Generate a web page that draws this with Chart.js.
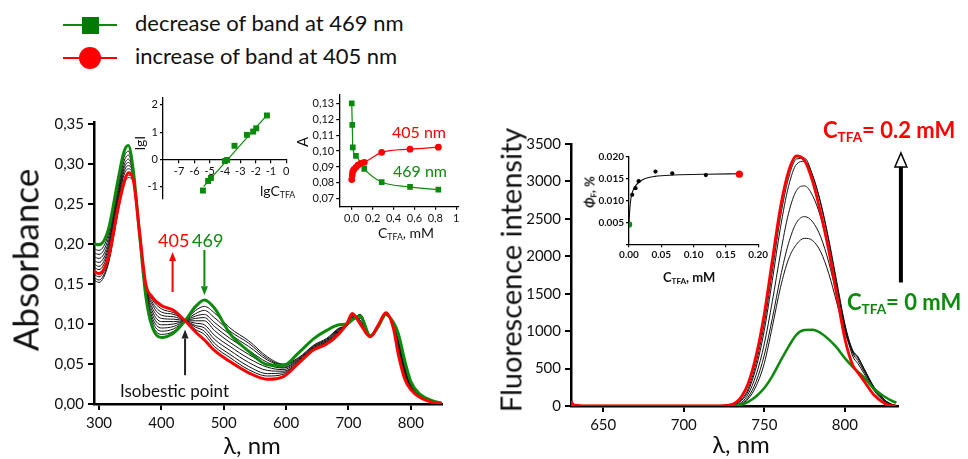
<!DOCTYPE html>
<html>
<head>
<meta charset="utf-8">
<script src="https://cdn.jsdelivr.net/npm/chart.js@4.4.1/dist/chart.umd.min.js"></script>
<style>
	body {margin:0; width:968px; height:459px; position:relative; overflow:hidden; background:#fff; font-family:Lato, 'DejaVu Sans', sans-serif; color:#111;}
	canvas {position:absolute;}
	.t {position:absolute; white-space:nowrap; line-height:1;}
	.rot {transform:translate(-50%,-50%) rotate(-90deg);}
	.cx {transform:translateX(-50%);}
	sub {font-size:0.62em; vertical-align:-0.28em; line-height:0;}
	.green {color:#0b8a0b;}
	.red {color:#ff0000;}
</style>
</head>
<body>

<svg style="position:absolute;left:0;top:0" width="130" height="80">
	<line x1="63" y1="25" x2="117" y2="25" stroke="#0b8a0b" stroke-width="2"/>
	<rect x="82" y="17" width="17" height="17" fill="#007a00"/>
	<line x1="63" y1="58" x2="117" y2="58" stroke="#ff0000" stroke-width="2"/>
	<circle cx="90" cy="58" r="11" fill="#ff0000"/>
</svg>
<div class="t" style="left:135px;top:11.5px;font-size:22px">decrease of band at 469 nm</div>
<div class="t" style="left:135px;top:44.5px;font-size:22px">increase of band at 405 nm</div>

<canvas id="absChart" width="470" height="369" style="left:0;top:90px"></canvas>
<canvas id="flChart" width="488" height="369" style="left:480px;top:90px"></canvas>
<canvas id="lgChart" width="180" height="125" style="left:120px;top:88px"></canvas>
<canvas id="aChart" width="168" height="160" style="left:300px;top:84px"></canvas>
<canvas id="phiChart" width="190" height="140" style="left:580px;top:146px"></canvas>

<div class="t rot" style="left:25px;top:260px;font-size:35px">Absorbance</div>
<div class="t cx" style="left:252px;top:433px;font-size:24px">λ, nm</div>
<div class="t red" style="left:158px;top:231px;font-size:18px">405</div>
<div class="t green" style="left:192px;top:231px;font-size:18px">469</div>
<div class="t" style="left:120px;top:382px;font-size:17px">Isobestic point</div>

<div class="t rot" style="left:510px;top:270px;font-size:29px">Fluorescence intensity</div>
<div class="t cx" style="left:741px;top:432px;font-size:24px">λ, nm</div>
<div class="t red" style="left:823px;top:118.5px;font-size:22px;font-weight:bold">C<sub>TFA</sub>= 0.2 mM</div>
<div class="t green" style="left:847px;top:290.5px;font-size:22px;font-weight:bold">C<sub>TFA</sub>= 0 mM</div>

<div class="t rot" style="left:140px;top:143px;font-size:14px">lgI</div>
<div class="t" style="left:260px;top:183.6px;font-size:14px">lgC<sub>TFA</sub></div>

<div class="t rot" style="left:302px;top:142px;font-size:15px">A</div>
<div class="t" style="left:378px;top:225.6px;font-size:14px">C<sub>TFA</sub>, mM</div>
<div class="t red" style="left:392px;top:123.8px;font-size:16px">405 nm</div>
<div class="t green" style="left:393px;top:162.8px;font-size:16px">469 nm</div>

<div class="t rot" style="left:590px;top:192px;font-size:13px;font-weight:bold"><i>Φ</i><sub>F</sub>, %</div>
<div class="t" style="left:663px;top:270.5px;font-size:13px;font-weight:bold">C<sub>TFA</sub>, mM</div>

<script>
const GREEN = '#0b8a0b';
const RED = '#ff0000';

// absorption spectra (left)
const absWl = [292, 300, 315, 330, 340, 347, 355, 365, 375, 385, 400, 420, 438, 455, 469, 485, 510, 540, 570, 595, 620, 645, 665, 685, 698, 706, 719, 735, 748, 760, 772, 780, 790, 800, 815, 835, 850];
const absGreen = [0.200, 0.199, 0.218, 0.278, 0.315, 0.323, 0.292, 0.212, 0.135, 0.097, 0.083, 0.089, 0.104, 0.122, 0.130, 0.120, 0.088, 0.066, 0.049, 0.048, 0.064, 0.082, 0.092, 0.099, 0.100, 0.105, 0.110, 0.085, 0.097, 0.112, 0.102, 0.088, 0.055, 0.028, 0.012, 0.004, 0.001];
const absRed = [0.166, 0.163, 0.183, 0.243, 0.276, 0.289, 0.280, 0.215, 0.150, 0.134, 0.123, 0.117, 0.104, 0.090, 0.080, 0.067, 0.053, 0.039, 0.031, 0.034, 0.051, 0.068, 0.075, 0.088, 0.101, 0.113, 0.100, 0.084, 0.099, 0.114, 0.095, 0.062, 0.032, 0.018, 0.008, 0.002, 0.000];
const absB1 = [.194,.192,.212,.272,.308,.316,.290,.213,.137,.101,.087,.091,.104,.117,.122,.114,.095,.079,.059,.050,.058,.074,.082,.095,.098,.104,.112,.086,.098,.112,.100,.080,.048,.025,.011,.004,.001];
const absB2 = [.189,.187,.207,.267,.303,.311,.289,.214,.139,.105,.091,.094,.104,.113,.117,.108,.091,.076,.057,.049,.057,.073,.081,.094,.098,.104,.112,.086,.098,.112,.099,.078,.046,.024,.010,.003,.001];
const absB3 = [.184,.182,.202,.262,.298,.306,.288,.214,.141,.109,.095,.097,.104,.110,.112,.102,.087,.072,.055,.048,.056,.072,.080,.093,.098,.105,.111,.085,.098,.113,.099,.076,.044,.023,.010,.003,.000];
const absB4 = [.179,.177,.198,.258,.294,.302,.287,.215,.143,.113,.099,.100,.104,.107,.108,.097,.082,.067,.052,.046,.055,.071,.079,.092,.099,.106,.110,.085,.098,.113,.098,.074,.042,.022,.009,.003,.000];
const absB5 = [.175,.172,.194,.254,.290,.298,.286,.215,.145,.117,.103,.103,.104,.104,.104,.092,.077,.062,.049,.045,.054,.070,.078,.091,.099,.107,.109,.085,.099,.113,.097,.072,.040,.021,.009,.003,.000];
const absB6 = [.171,.168,.190,.250,.286,.294,.284,.215,.146,.121,.107,.106,.104,.101,.099,.086,.072,.057,.046,.043,.053,.069,.077,.090,.099,.108,.107,.084,.099,.113,.097,.070,.038,.020,.009,.002,.000];
const absB7 = [.162,.159,.182,.244,.280,.289,.282,.214,.147,.125,.111,.109,.104,.098,.095,.081,.067,.052,.042,.041,.052,.069,.077,.089,.100,.109,.105,.084,.099,.114,.096,.068,.036,.020,.008,.002,.000];
const absB8 = [.158,.155,.178,.240,.277,.286,.280,.214,.148,.128,.115,.112,.104,.096,.091,.076,.062,.047,.038,.039,.052,.068,.076,.089,.100,.110,.103,.084,.099,.114,.096,.066,.035,.019,.008,.002,.000];
const absB9 = [.155,.152,.175,.237,.274,.283,.278,.213,.149,.131,.119,.114,.104,.093,.087,.072,.058,.043,.035,.037,.051,.068,.076,.088,.100,.111,.101,.084,.099,.114,.095,.064,.033,.019,.008,.002,.000];

// fluorescence spectra (right)
const flWl = [630, 632, 640, 660, 680, 700, 720, 728, 732, 736, 740, 745, 750, 755, 760, 765, 770, 775, 780, 785, 790, 795, 800, 805, 808, 812, 818, 825, 830, 832];
const flGreen = [0, 0, 0, 0, 0, 0, 0, 0, 5, 20, 55, 130, 240, 400, 600, 790, 955, 1015, 1020, 975, 890, 780, 640, 520, 460, 380, 230, 120, 60, 45];
const flRed = [60, 10, 0, 0, 0, 0, 0, 10, 40, 130, 300, 680, 1230, 1950, 2650, 3130, 3340, 3280, 3000, 2580, 2080, 1480, 900, 540, 450, 330, 150, 30, 0, 0];
const flB1 = [0, 0, 0, 0, 0, 0, 0, 5, 25, 90, 230, 580, 1100, 1800, 2520, 3040, 3300, 3310, 3080, 2700, 2200, 1620, 1050, 660, 570, 430, 210, 55, 10, 5];
const flB2 = [0, 0, 0, 0, 0, 0, 0, 3, 20, 75, 200, 520, 1010, 1680, 2380, 2930, 3230, 3270, 3080, 2720, 2230, 1660, 1100, 700, 610, 460, 230, 60, 12, 5];
const flB3 = [0, 0, 0, 0, 0, 0, 0, 0, 12, 50, 160, 420, 830, 1400, 2030, 2570, 2880, 2940, 2810, 2520, 2080, 1580, 1080, 740, 660, 490, 250, 70, 15, 5];
const flB4 = [0, 0, 0, 0, 0, 0, 0, 0, 8, 35, 120, 330, 680, 1170, 1720, 2170, 2450, 2530, 2460, 2260, 1920, 1480, 1040, 730, 660, 500, 260, 75, 15, 5];
const flB5 = [0, 0, 0, 0, 0, 0, 0, 0, 5, 25, 95, 270, 570, 1060, 1580, 1960, 2160, 2240, 2210, 2060, 1770, 1380, 990, 710, 640, 480, 250, 75, 15, 5];

// inset: lgI vs lgC
const lgC = [-5.44, -5.10, -4.92, -4.01, -3.86, -3.38, -2.57, -2.16, -1.96, -1.26];
const lgI = [-1.14, -0.79, -0.68, -0.06, -0.02, 0.50, 0.90, 1.02, 1.14, 1.61];
const lgCFit = [-5.40, -1.26];
const lgIFit = [-1.00, 1.62];
const lgTicksX = [-7, -6, -5, -4, -3, -2, -1, 0];

// inset: A vs C(TFA)
const cGreen = [0, 0.005, 0.01, 0.04, 0.12, 0.287, 0.558, 0.829];
const aGreen = [0.130, 0.1165, 0.1023, 0.0970, 0.0888, 0.0805, 0.0775, 0.0757];
const cRed = [0, 0.005, 0.01, 0.02, 0.04, 0.06, 0.085, 0.12, 0.287, 0.558, 0.829];
const aRed = [0.0821, 0.0850, 0.0871, 0.0884, 0.0898, 0.0912, 0.0923, 0.0929, 0.0992, 0.1012, 0.1025];

// inset: quantum yield vs C(TFA)
const cPhi = [0.005, 0.010, 0.015, 0.041, 0.067, 0.119];
const phi = [0.0113, 0.0128, 0.0144, 0.0166, 0.0162, 0.0158];
const cPhiStart = [0], phiStart = [0.0045];
const cPhiEnd = [0.171], phiEnd = [0.0160];
const cPhiFit = [0, 0.001, 0.003, 0.006, 0.010, 0.015, 0.025, 0.040, 0.070, 0.120, 0.172];
const phiFit = [0.0045, 0.0075, 0.0105, 0.0122, 0.0133, 0.0141, 0.0150, 0.0155, 0.0158, 0.0160, 0.0161];

// arrows (data units)
const absArrows = [
	{x: 418, from: 0.140, to: 0.190, color: RED},
	{x: 469, from: 0.1925, to: 0.136, color: GREEN},
	{x: 438, from: 0.036, to: 0.093, color: '#222'}
];
const flArrow = {x: 834.8, from: 1650, to: 3380};


function pts(xs, ys){
	return xs.map((x, i) => ({x: x, y: ys[i]}));
}

function drawArrow(ctx, x, y0, y1, color, lw, hl, hw, open){
	const dir = y1 < y0 ? -1 : 1;
	const base = y1 - dir * hl;
	ctx.save();
	ctx.strokeStyle = color;
	ctx.fillStyle = color;
	ctx.lineWidth = lw;
	ctx.beginPath();
	ctx.moveTo(x, y0);
	ctx.lineTo(x, base);
	ctx.stroke();
	ctx.beginPath();
	ctx.moveTo(x, y1);
	ctx.lineTo(x - hw, base);
	ctx.lineTo(x + hw, base);
	ctx.closePath();
	if (open) {
		ctx.fillStyle = '#fff';
		ctx.fill();
		ctx.lineWidth = 1.5;
		ctx.stroke();
	} else ctx.fill();
	ctx.restore();
}

function axis(o){
	const a = {
		type: 'linear',
		min: o.min,
		max: o.max,
		position: o.position,
		afterFit: (s) => { if (o.size) { if (s.isHorizontal()) s.height = o.size; else s.width = o.size; } },
		ticks: {
			stepSize: o.step,
			includeBounds: false,
			maxRotation: 0,
			autoSkip: false,
			color: '#111',
			padding: o.pad || 3,
			font: {family: "Lato, 'DejaVu Sans', sans-serif", size: o.font, weight: o.bold ? 'bold' : 'normal'},
			callback: o.fmt
		},
		grid: {drawOnChartArea: false, drawTicks: true, tickLength: o.tick || 4, color: '#000', lineWidth: o.tickW || 1.5},
		border: {display: true, color: '#000', width: o.line || 1.5}
	};
	if (o.list) a.afterBuildTicks = (s) => { s.ticks = o.list.map(v => ({value: v})); };
	return a;
}

const base = {
	responsive: false,
	animation: false,
	events: [],
	plugins: {legend: {display: false}, tooltip: {enabled: false}},
	elements: {point: {radius: 0}, line: {cubicInterpolationMode: 'monotone'}}
};

function lineSet(xs, ys, color, w){
	return {data: pts(xs, ys), borderColor: color, borderWidth: w, pointRadius: 0, fill: false};
}

// left: absorbance
const absBlack = [absB1, absB2, absB3, absB4, absB5, absB6, absB7, absB8, absB9];
new Chart(document.getElementById('absChart'), {
	type: 'line',
	data: {datasets: [
		lineSet(absWl, absRed, RED, 3),
		lineSet(absWl, absGreen, GREEN, 3)
	].concat(absBlack.map(b => lineSet(absWl, b, '#111', 1)))},
	options: Object.assign({}, base, {
		layout: {padding: {left: 44, top: 32, right: 28, bottom: 25}},
		scales: {
			x: axis({min: 292, max: 850, step: 100, font: 15, size: 30, tick: 6, pad: 4, line: 2.5, tickW: 2}),
			y: axis({min: 0, max: 0.3525, step: 0.05, font: 15, size: 50, tick: 6, pad: 4, line: 2.5, tickW: 2,
				fmt: v => v.toFixed(2).replace('.', ',')})
		}
	}),
	plugins: [{
		id: 'absArrows',
		afterDatasetsDraw(chart){
			const sx = chart.scales.x, sy = chart.scales.y;
			absArrows.forEach(a => {
				drawArrow(chart.ctx, sx.getPixelForValue(a.x), sy.getPixelForValue(a.from), sy.getPixelForValue(a.to), a.color, 2, 9, 3.5, false);
			});
		}
	}]
});

// right: fluorescence
const flBlack = [flB1, flB2, flB3, flB4, flB5];
new Chart(document.getElementById('flChart'), {
	type: 'line',
	data: {datasets: [
		lineSet(flWl, flRed, RED, 2.8),
		lineSet(flWl, flGreen, GREEN, 2.5)
	].concat(flBlack.map(b => lineSet(flWl, b, '#111', 1)))},
	options: Object.assign({}, base, {
		layout: {padding: {left: 41, top: 54, right: 70, bottom: 23}},
		scales: {
			x: axis({min: 630, max: 833, step: 50, font: 15, size: 30, tick: 6, pad: 4, line: 2.5, tickW: 2}),
			y: axis({min: 0, max: 3500, step: 500, font: 15, size: 50, tick: 6, pad: 4, line: 2.5, tickW: 2})
		}
	}),
	plugins: [{
		id: 'flArrow',
		afterDraw(chart){
			const sx = chart.scales.x, sy = chart.scales.y;
			drawArrow(chart.ctx, sx.getPixelForValue(flArrow.x), sy.getPixelForValue(flArrow.from), sy.getPixelForValue(flArrow.to), '#000', 4, 14, 6, true);
		}
	}]
});

// inset: lgI vs lgC
new Chart(document.getElementById('lgChart'), {
	type: 'line',
	data: {datasets: [
		{data: pts(lgC, lgI), showLine: false, pointStyle: 'rect', pointRadius: 4.2, backgroundColor: '#0a8a0a', borderWidth: 0},
		{data: pts(lgCFit, lgIFit), borderColor: GREEN, borderWidth: 1.2, pointRadius: 0}
	]},
	options: Object.assign({}, base, {
		layout: {padding: {left: 23, top: 10, right: 13, bottom: 14}},
		scales: {
			x: axis({min: -8.05, max: 0.05, step: 1, font: 11, position: {y: 0}, tick: 3, pad: 2, line: 1.3, tickW: 1.2,
				list: lgTicksX, fmt: v => String(v)}),
			y: axis({min: -1.45, max: 2.25, step: 1, font: 11, size: 20, tick: 3, pad: 2, line: 1.3, tickW: 1.2})
		}
	})
});

// inset: A vs C
new Chart(document.getElementById('aChart'), {
	type: 'line',
	data: {datasets: [
		{data: pts(cRed, aRed), borderColor: RED, borderWidth: 1.2, pointStyle: 'circle', pointRadius: 3.4, backgroundColor: RED, pointBorderWidth: 0},
		{data: pts(cGreen, aGreen), borderColor: GREEN, borderWidth: 1.2, pointStyle: 'rect', pointRadius: 4, backgroundColor: '#0a8a0a', pointBorderWidth: 0}
	]},
	options: Object.assign({}, base, {
		layout: {padding: {left: 9.2, top: 10.7, right: 9.7, bottom: 21.3}},
		scales: {
			x: axis({min: -0.12, max: 1.02, step: 0.2, font: 11, size: 16, tick: 3, pad: 2, line: 1.3, tickW: 1.2,
				fmt: v => v === 1 ? '1' : v.toFixed(1).replace('.', ',')}),
			y: axis({min: 0.065, max: 0.1355, step: 0.01, font: 11, size: 30, tick: 3, pad: 2, line: 1.3, tickW: 1.2,
				fmt: v => v.toFixed(2).replace('.', ',')})
		}
	})
});

// inset: quantum yield
new Chart(document.getElementById('phiChart'), {
	type: 'line',
	data: {datasets: [
		{data: pts(cPhiStart, phiStart), showLine: false, pointRadius: 3.2, backgroundColor: GREEN, borderWidth: 0},
		{data: pts(cPhiEnd, phiEnd), showLine: false, pointRadius: 3.6, backgroundColor: RED, borderWidth: 0},
		{data: pts(cPhi, phi), showLine: false, pointRadius: 2.1, backgroundColor: '#000', borderWidth: 0},
		{data: pts(cPhiFit, phiFit), borderColor: '#111', borderWidth: 1.1, pointRadius: 0}
	]},
	options: Object.assign({}, base, {
		layout: {padding: {left: 13, top: 10.7, right: 11, bottom: 25.8}},
		scales: {
			x: axis({min: 0, max: 0.2, step: 0.05, font: 10, bold: true, size: 16, tick: 3, pad: 2, line: 1.3, tickW: 1.2,
				fmt: v => v.toFixed(2)}),
			y: axis({min: 0, max: 0.02, step: 0.005, font: 10, bold: true, size: 36, tick: 3, pad: 2, line: 1.3, tickW: 1.2,
				fmt: v => v === 0 ? '' : v.toFixed(3)})
		}
	})
});
</script>
</body>
</html>
